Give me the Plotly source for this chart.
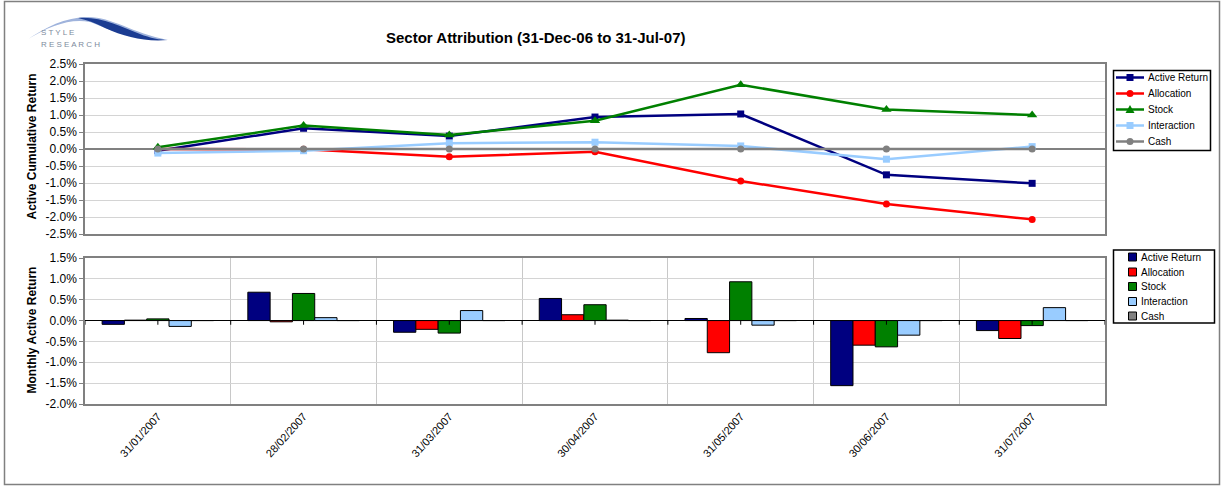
import plotly.graph_objects as go

W, H = 1224, 486
FONT = "Liberation Sans, Arial, sans-serif"

dates = ["31/01/2007", "28/02/2007", "31/03/2007", "30/04/2007",
         "31/05/2007", "30/06/2007", "31/07/2007"]
series_names = ["Active Return", "Allocation", "Stock", "Interaction", "Cash"]

# cumulative active returns (%)
cum_active = [-0.05, 0.61, 0.38, 0.94, 1.03, -0.76, -1.01]
cum_alloc = [0.0, -0.01, -0.23, -0.08, -0.94, -1.62, -2.07]
cum_stock = [0.05, 0.69, 0.41, 0.83, 1.89, 1.16, 1.00]
cum_inter = [-0.12, -0.05, 0.17, 0.20, 0.09, -0.30, 0.07]
cum_cash = [0.0, 0.0, 0.0, 0.0, 0.0, 0.0, 0.0]

# monthly active returns (%)
mon_active = [-0.09, 0.68, -0.28, 0.53, 0.05, -1.56, -0.24]
mon_alloc = [0.01, -0.03, -0.21, 0.14, -0.77, -0.59, -0.43]
mon_stock = [0.04, 0.65, -0.30, 0.38, 0.93, -0.63, -0.12]
mon_inter = [-0.14, 0.07, 0.24, 0.01, -0.11, -0.35, 0.31]
mon_cash = [0.0, 0.0, 0.0, 0.0, 0.0, 0.0, 0.0]

top_ticks = [2.5, 2.0, 1.5, 1.0, 0.5, 0.0, -0.5, -1.0, -1.5, -2.0, -2.5]
bot_ticks = [1.5, 1.0, 0.5, 0.0, -0.5, -1.0, -1.5, -2.0]

colors = ["#000080", "#ff0000", "#008000", "#99ccff", "#808080"]
symbols = ["square", "circle", "triangle-up", "square", "circle"]


def px(x):
    return x / W


def py(y):
    return 1 - y / H


def fmt(v):
    return ("-" if v < 0 else "") + f"{abs(v):.1f}%"


def path_px(cmds):
    out = []
    for c in cmds:
        if isinstance(c, str):
            out.append(c)
        else:
            out.append(f"{px(c[0]):.5f},{py(c[1]):.5f}")
    return " ".join(out)


fig = go.Figure()

cums = [cum_active, cum_alloc, cum_stock, cum_inter, cum_cash]
mons = [mon_active, mon_alloc, mon_stock, mon_inter, mon_cash]

for name, vals, c, s in zip(series_names, cums, colors, symbols):
    fig.add_trace(go.Scatter(
        x=dates, y=vals, name=name, mode="lines+markers",
        line=dict(color=c, width=2.5),
        marker=dict(symbol=s, size=9 if s == "triangle-up" else 7, color=c),
        xaxis="x", yaxis="y", showlegend=False))

for name, vals, c in zip(series_names, mons, colors):
    fig.add_trace(go.Bar(
        x=dates, y=vals, name=name,
        marker=dict(color=c, line=dict(color="#000000", width=1)),
        xaxis="x2", yaxis="y2", showlegend=False))

xdom = [px(85), px(1105)]

shapes = []
annotations = []

# outer border
shapes.append(dict(type="rect", xref="paper", yref="paper", x0=px(4.5), x1=px(1219.5),
                   y0=py(484.5), y1=py(1.5), line=dict(color="#808080", width=1.5), layer="below"))

# logo swoosh
sw1 = path_px(["M", (28, 39), "C", (45, 28), (65, 17), (88, 17), "C", (112, 17), (132, 33), (168, 40),
               "C", (135, 41), (113, 31), (90, 22), "C", (70, 18), (50, 26), (28, 39), "Z"])
sw2 = path_px(["M", (78, 18), "C", (100, 16), (120, 26), (140, 34), "C", (150, 38), (160, 40), (168, 40),
               "C", (145, 42), (125, 37), (105, 28), "C", (95, 23), (87, 20), (78, 18), "Z"])
shapes.append(dict(type="path", xref="paper", yref="paper", path=sw1,
                   fillcolor="#9fb3dc", line=dict(width=0)))
shapes.append(dict(type="path", xref="paper", yref="paper", path=sw2,
                   fillcolor="#1b3c92", line=dict(width=0)))

# small tick marks on bottom chart zero line (centres and boundaries)
for i in range(len(dates) + 1):
    for pos in ([i - 0.5] + ([i] if i < len(dates) else [])):
        shapes.append(dict(type="line", xref="x2", yref="y2", x0=pos, x1=pos,
                           y0=0, y1=-0.1, line=dict(color="#000000", width=1)))

annotations += [
    dict(text="<b>Sector Attribution (31-Dec-06 to 31-Jul-07)</b>", x=px(536), y=py(37),
         xanchor="center", yanchor="middle",
         xref="paper", yref="paper", showarrow=False, font=dict(size=15, family=FONT, color="#000")),
    dict(text="<b>Active Cumulative Return</b>", x=px(31.5), y=py(147), textangle=-90,
         xanchor="center", yanchor="middle",
         xref="paper", yref="paper", showarrow=False, font=dict(size=12, family=FONT, color="#000")),
    dict(text="<b>Monthly Active Return</b>", x=px(31.5), y=py(330), textangle=-90,
         xanchor="center", yanchor="middle",
         xref="paper", yref="paper", showarrow=False, font=dict(size=12, family=FONT, color="#000")),
    dict(text="S T Y L E", x=px(39), y=py(33), xanchor="left", yanchor="middle",
         xref="paper", yref="paper",
         showarrow=False, font=dict(size=8, family=FONT, color="#7d8a9c")),
    dict(text="R E S E A R C H", x=px(39), y=py(45), xanchor="left", yanchor="middle",
         xref="paper", yref="paper",
         showarrow=False, font=dict(size=8, family=FONT, color="#7d8a9c")),
]

# ---- legend 1 (lines with markers) ----
shapes.append(dict(type="rect", xref="paper", yref="paper", x0=px(1113.5), x1=px(1210.5),
                   y0=py(150.5), y1=py(70.5), line=dict(color="#000", width=1.5), fillcolor="white"))
leg1_y = [77.5, 93.5, 109.5, 125.5, 141.5]
for name, c, s, yy in zip(series_names, colors, symbols, leg1_y):
    shapes.append(dict(type="line", xref="paper", yref="paper", x0=px(1116), x1=px(1144),
                       y0=py(yy), y1=py(yy), line=dict(color=c, width=2.5)))
    cx = 1130
    if s == "square":
        shapes.append(dict(type="rect", xref="paper", yref="paper", x0=px(cx - 3.5), x1=px(cx + 3.5),
                           y0=py(yy + 3.5), y1=py(yy - 3.5), fillcolor=c, line=dict(width=0)))
    elif s == "circle":
        shapes.append(dict(type="circle", xref="paper", yref="paper", x0=px(cx - 3.5), x1=px(cx + 3.5),
                           y0=py(yy + 3.5), y1=py(yy - 3.5), fillcolor=c, line=dict(width=0)))
    else:
        shapes.append(dict(type="path", xref="paper", yref="paper",
                           path=path_px(["M", (cx - 4.5, yy + 3.5), "L", (cx + 4.5, yy + 3.5),
                                         "L", (cx, yy - 4.5), "Z"]),
                           fillcolor=c, line=dict(width=0)))
    annotations.append(dict(text=name, x=px(1145.5), y=py(yy), xanchor="left", yanchor="middle",
                            xref="paper", yref="paper", showarrow=False,
                            font=dict(size=10, family=FONT, color="#000")))

# ---- legend 2 (bar squares) ----
shapes.append(dict(type="rect", xref="paper", yref="paper", x0=px(1113.5), x1=px(1214.5),
                   y0=py(323), y1=py(250), line=dict(color="#000", width=1.5), fillcolor="white"))
leg2_y = [257, 272, 286.5, 301.5, 316]
for name, c, yy in zip(series_names, colors, leg2_y):
    shapes.append(dict(type="rect", xref="paper", yref="paper", x0=px(1128.5), x1=px(1136.5),
                       y0=py(yy + 4), y1=py(yy - 4), fillcolor=c, line=dict(color="#000", width=1)))
    annotations.append(dict(text=name, x=px(1138.5), y=py(yy), xanchor="left", yanchor="middle",
                            xref="paper", yref="paper", showarrow=False,
                            font=dict(size=10, family=FONT, color="#000")))

axis_font = dict(size=12, family=FONT, color="#000")

fig.update_layout(
    width=W, height=H, autosize=False,
    margin=dict(l=0, r=0, t=0, b=0),
    paper_bgcolor="white", plot_bgcolor="white",
    font=dict(family=FONT, color="#000"),
    showlegend=False,
    shapes=shapes, annotations=annotations,
    barmode="group", bargap=0.235, bargroupgap=0,
    xaxis=dict(domain=xdom, anchor="y", type="category", categoryorder="array", categoryarray=dates,
               showticklabels=False, showgrid=False, zeroline=False, range=[-0.5, 6.5],
               showline=True, mirror=True, linecolor="#808080", linewidth=1.5, ticks="",
               automargin=False),
    yaxis=dict(domain=[py(234), py(64)], anchor="x", range=[-2.5, 2.5],
               tickvals=top_ticks, ticktext=[fmt(v) for v in top_ticks],
               tickfont=axis_font, showgrid=True, gridcolor="#d4d4d4", gridwidth=1,
               zeroline=True, zerolinecolor="#808080", zerolinewidth=2,
               showline=True, mirror=True, linecolor="#808080", linewidth=1.5,
               ticks="outside", ticklen=4, tickcolor="#808080", automargin=False),
    xaxis2=dict(domain=xdom, anchor="y2", type="category", categoryorder="array", categoryarray=dates,
                tickson="boundaries", showgrid=True, gridcolor="#c8c8c8", gridwidth=1,
                tickangle=-48, tickfont=dict(size=11, family=FONT, color="#000"), ticks="",
                range=[-0.5, 6.5],
                showline=True, mirror=True, linecolor="#808080", linewidth=1.5,
                zeroline=False, automargin=False),
    yaxis2=dict(domain=[py(404), py(258)], anchor="x2", range=[-2.0, 1.5],
                tickvals=bot_ticks, ticktext=[fmt(v) for v in bot_ticks],
                tickfont=axis_font, showgrid=True, gridcolor="#d4d4d4", gridwidth=1,
                zeroline=True, zerolinecolor="#000000", zerolinewidth=1,
                showline=True, mirror=True, linecolor="#808080", linewidth=1.5,
                ticks="outside", ticklen=4, tickcolor="#808080", automargin=False),
)

fig.write_html("out.html", config={"displayModeBar": False},
               post_script="document.body.style.margin='0';")
